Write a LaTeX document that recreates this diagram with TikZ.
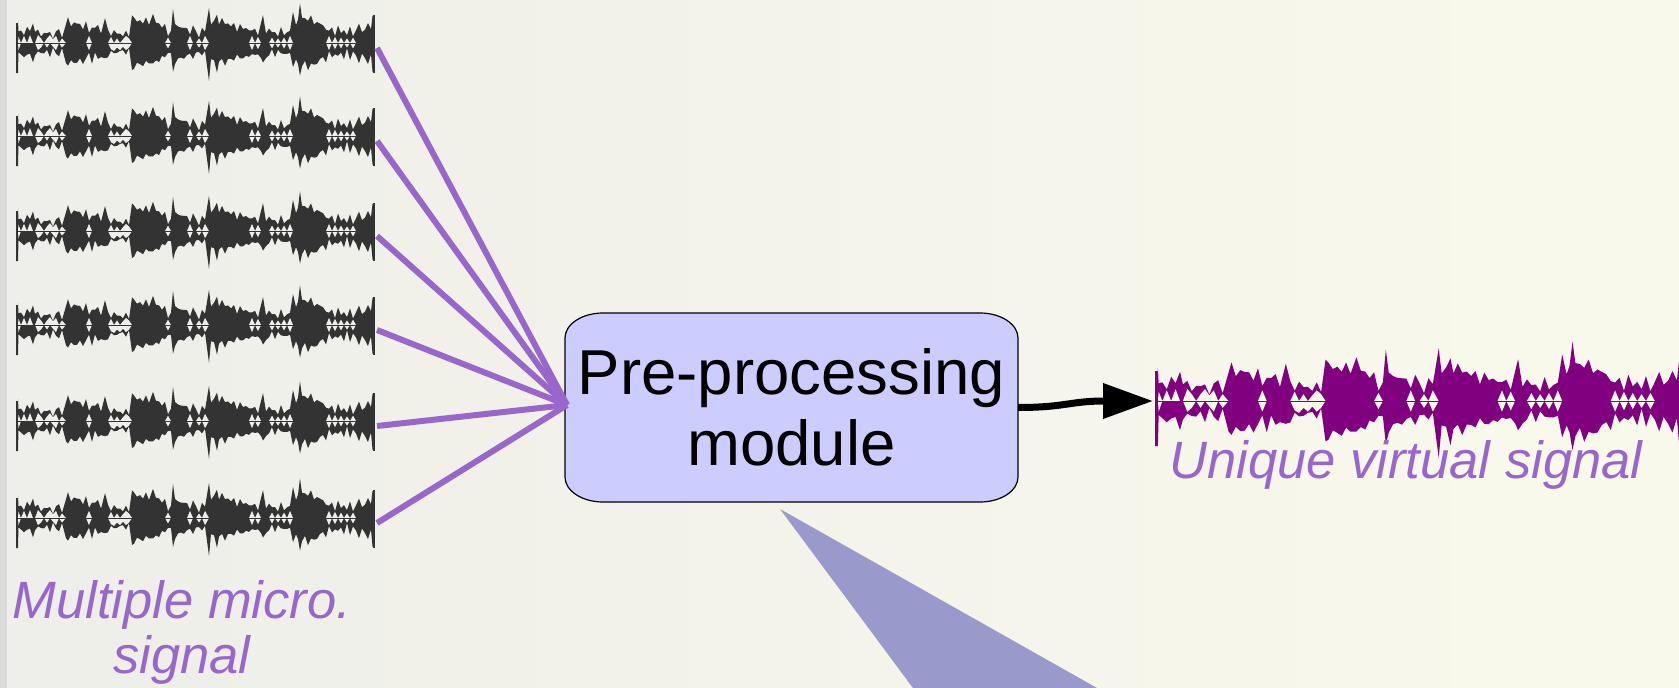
\documentclass[tikz,border=0pt]{standalone}
\usepackage{fontspec}
\setmainfont{Liberation Sans}
\usetikzlibrary{arrows.meta}
\definecolor{bgL}{RGB}{238,238,234}
\definecolor{bgR}{RGB}{249,249,235}
\definecolor{strip}{RGB}{220,221,218}
\definecolor{wavegray}{RGB}{51,51,51}
\definecolor{wavepurple}{RGB}{128,0,128}
\definecolor{linepurple}{RGB}{153,102,204}
\definecolor{boxfill}{RGB}{204,204,255}
\definecolor{beam}{RGB}{153,153,204}
\newcommand\wavedata{2/17/28, 2.5/5/6, 5/9/10, 8/6/8, 11/11/9, 14/7/8, 17/20/14, 19/8/9, 22/7/6, 25/3/3, 28/8/8, 31/3/3, 34/7/8, 37/2/2, 40/6/6, 43/9/8, 46/3/3, 50/14/15, 52/22/20, 55/16/17, 58/19/15, 61/14/18, 64/18/14, 67/12/16, 70/17/14, 73/6/6, 76/15/16, 79/10/8, 82/14/12, 85/8/9, 89/21/14, 92/9/8, 95/5/5, 98/8/7, 101/3/3, 104/8/6, 107/2/2, 110/6/6, 113/3/3, 116/28/24, 118/22/22, 121/18/20, 124/24/18, 127/16/20, 130/22/18, 133/18/16, 137/27/20, 140/16/15, 143/20/14, 146/12/12, 149/14/10, 152/4/4, 155/10/9, 157/32/28, 159/14/16, 162/16/14, 165/13/12, 168/9/10, 171/13/11, 174/6/6, 177/12/11, 180/8/8, 183/3/3, 186/10/8, 189/6/6, 193/38/36, 195/15/14, 198/18/16, 201/30/26, 203/18/16, 206/21/15, 209/16/18, 212/20/14, 215/12/14, 218/16/12, 221/10/10, 224/16/12, 227/8/10, 230/14/12, 233/10/9, 236/6/6, 239/12/11, 242/5/5, 245/15/12, 247/25/20, 250/8/10, 253/11/8, 256/4/4, 259/9/8, 262/3/3, 265/10/8, 268/4/4, 271/9/9, 274/6/6, 277/30/20, 280/18/16, 282/22/20, 284/38/30, 286/22/20, 289/26/18, 292/20/24, 295/24/18, 298/18/22, 301/20/16, 304/14/14, 307/16/12, 310/12/14, 313/6/6, 316/12/11, 319/5/5, 322/13/12, 325/4/4, 328/12/12, 331/3/3, 334/11/12, 337/4/4, 340/10/11, 343/14/15, 346/8/8, 349/12/13, 352/15/16, 355/10/10, 356.5/28/30}
\newcommand\wavefig[2]{%
  \fill[#1] (0,0) -- (0,-20) -- (2,-20) \foreach \wx/\wt/\wb in \wavedata { -- (\wx,{-(5+0.85*\wt+2.5*sin(\wx*37))}) } -- (358,-28) -- (358,0) -- cycle;
  \fill[#1] (0,0) -- (0,30) -- (2,30) \foreach \wx/\wt/\wb in \wavedata { -- (\wx,{5+0.85*\wb+2.5*cos(\wx*43)}) } -- (358,30) -- (358,0) -- cycle;
  \fill[#2] (4,0) \foreach \wx/\wt/\wb in \wavedata { -- (\wx,{-((5+0.85*\wt)<11)*(2+0.85*\wt)}) } -- (354,0) -- cycle;
  \fill[#2] (4,0) \foreach \wx/\wt/\wb in \wavedata { -- (\wx,{((5+0.85*\wb)<11)*(2+0.85*\wb)}) } -- (354,0) -- cycle;
  \draw[#1, line width=1pt] (0,0) -- (358,0);
  \fill[#1] (0,-20) rectangle (2.2,30);
  \fill[#1] (356.5,-28) rectangle (358.5,30);
}
\tikzset{
  feed/.style={linepurple, line width=6pt},
  caption/.style={text=linepurple, font=\fontsize{52.5}{55}\selectfont\itshape, align=center, inner sep=0pt},
  boxtext/.style={font=\fontsize{63.5}{71}\selectfont, align=center, inner sep=0pt, minimum width=453pt, minimum height=189pt},
  boxshape/.style={fill=boxfill, draw=black, line width=1.2pt},
  outarrow/.style={line width=7pt, -{Triangle[length=50pt,width=34pt]}},
}
\begin{document}
\begin{tikzpicture}[x=1pt, y=-1pt]
\useasboundingbox (0,0) rectangle (1679,688);
\shade[left color=bgL, right color=bgR] (0,0) rectangle (1679,688);
\fill[strip] (0,0) rectangle (7,688);
% beam
\fill[beam] (780,509) -- (913,688) -- (1097,688) -- cycle;
% input waveforms
\foreach \c [count=\i] in {43,136,231,325,421,518} {
  \begin{scope}[shift={(16,\c)}]
    \wavefig{wavegray}{bgL}
  \end{scope}
  \coordinate (w\i) at (377,\c+5);
}
% output waveform
\begin{scope}[shift={(1155,401)}, xscale=1.47, yscale=1.5]
  \wavefig{wavepurple}{bgR}
\end{scope}
\coordinate (uv) at (1153,401);
% box
\path[boxshape] (603,313) -- (980,313) .. controls (1001,313) and (1018,324.2) .. (1018,338) -- (1018,477) .. controls (1018,490.8) and (1001,502) .. (980,502) -- (603,502) .. controls (582,502) and (565,490.8) .. (565,477) -- (565,338) .. controls (565,324.2) and (582,313) .. (603,313) -- cycle;
\node[boxtext] (box) at (791.5,407.5) {Pre-processing\\module};
\coordinate (conv) at (567,405);
\foreach \i in {1,...,6} \draw[feed] (w\i) -- (conv);
\draw[outarrow] (box.east) .. controls (1065,407.5) and (1070,401) .. (uv);
% captions
\node[caption, anchor=north] (cin) at (182,580) {Multiple micro.\\signal};
\node[caption, anchor=base] (cout) at (1406,478) {Unique virtual signal};
\end{tikzpicture}
\end{document}
